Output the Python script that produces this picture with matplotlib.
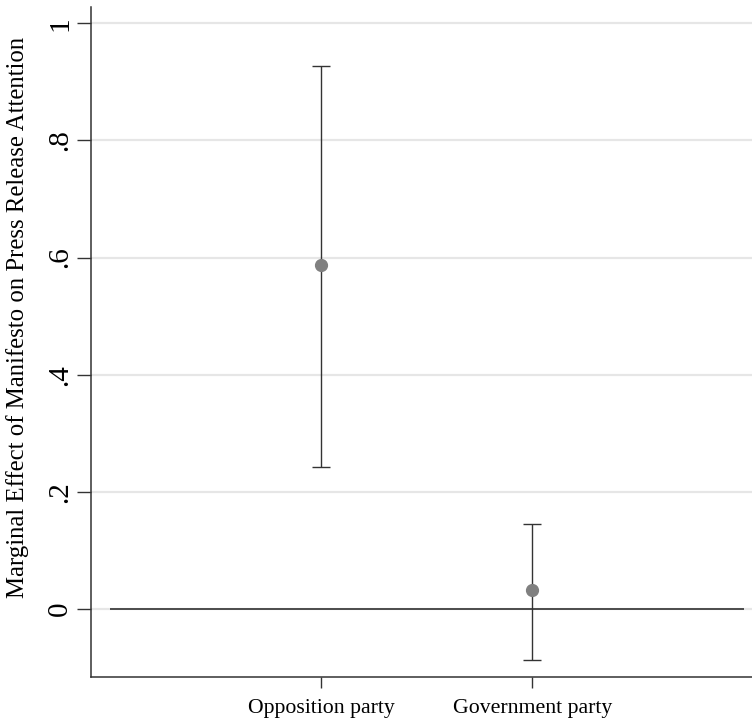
import matplotlib
matplotlib.use("Agg")
import matplotlib.pyplot as plt

# Marginal effects with 95% confidence intervals
categories = ["Opposition party", "Government party"]
estimates = [0.5875, 0.032]
ci_lower = [0.243, -0.087]
ci_upper = [0.928, 0.145]
yticks = [0, 0.2, 0.4, 0.6, 0.8, 1.0]
ytick_labels = ["0", ".2", ".4", ".6", ".8", "1"]

plt.rcParams["font.family"] = ["Liberation Serif", "DejaVu Serif"]

fig = plt.figure(figsize=(7.52, 7.19), dpi=100)
ax = fig.add_axes([91 / 752, (719 - 677) / 719, (752 - 91) / 752, (677 - 7) / 719])

xpos = [1, 2]

# gridlines
for t in yticks:
    ax.axhline(t, color="#e6e6e6", lw=1.6, zorder=0)

# reference line at zero
ax.hlines(0, 0, 3, color="#222222", lw=1.1, zorder=1)

lo_err = [e - l for e, l in zip(estimates, ci_lower)]
hi_err = [u - e for e, u in zip(estimates, ci_upper)]
ax.errorbar(xpos, estimates, yerr=[lo_err, hi_err], fmt="none",
            ecolor="#333333", elinewidth=1.0, capsize=6.5, capthick=1.0, zorder=2)
ax.plot(xpos, estimates, "o", color="#808080", markersize=8.5, zorder=3)

ax.set_xlim(-0.09, 3.04)
ax.set_ylim(-0.1165, 1.028)

ax.set_yticks(yticks)
ax.set_yticklabels(ytick_labels, rotation=90, va="center", fontsize=21)
ax.set_xticks(xpos)
ax.set_xticklabels(categories, fontsize=15.7)

ax.tick_params(axis="y", length=10, width=1.0, color="#333333", pad=3)
ax.tick_params(axis="x", length=8, width=1.0, color="#333333", pad=8)

for side in ["top", "right"]:
    ax.spines[side].set_visible(False)
for side in ["left", "bottom"]:
    ax.spines[side].set_color("#333333")
    ax.spines[side].set_linewidth(1.1)

ax.set_ylabel("Marginal Effect of Manifesto on Press Release Attention", fontsize=17.8)
ax.yaxis.set_label_coords((29 - 91) / 661, (677 - 317) / 670)

fig.savefig("out.png", dpi=100)
